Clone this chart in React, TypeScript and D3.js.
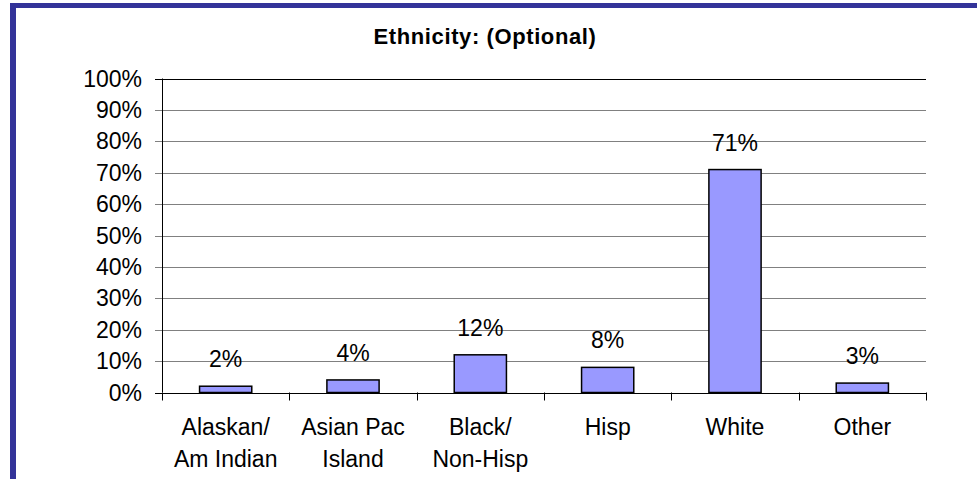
import React, { useEffect, useRef } from 'react';
import * as d3 from 'd3';

const categories: string[][] = [
  ['Alaskan/', 'Am Indian'],
  ['Asian Pac', 'Island'],
  ['Black/', 'Non-Hisp'],
  ['Hisp'],
  ['White'],
  ['Other'],
];
const values = [2, 4, 12, 8, 71, 3];
const yTicks = [0, 10, 20, 30, 40, 50, 60, 70, 80, 90, 100];

const W = 977;
const H = 479;

const App: React.FC = () => {
  const svgRef = useRef<SVGSVGElement | null>(null);

  useEffect(() => {
    if (!svgRef.current) return;
    const svg = d3.select(svgRef.current);
    svg.selectAll('*').remove();

    const font = 'Arial, "Liberation Sans", sans-serif';
    const left = 162;
    const right = 926;
    const top = 78.5;
    const bottom = 392.5;
    const fs = 23;

    svg.append('rect').attr('width', W).attr('height', H).attr('fill', '#fff');

    // Frame (left and top edges only visible)
    svg.append('rect')
      .attr('x', 10).attr('y', 3)
      .attr('width', 6).attr('height', H - 3)
      .attr('fill', '#333399');
    svg.append('rect')
      .attr('x', 10).attr('y', 3)
      .attr('width', W - 10).attr('height', 5)
      .attr('fill', '#333399');

    svg.append('text')
      .attr('x', 485).attr('y', 44)
      .attr('text-anchor', 'middle')
      .attr('font-family', font)
      .attr('font-weight', 'bold')
      .attr('font-size', 22)
      .attr('letter-spacing', 0.6)
      .text('Ethnicity: (Optional)');

    const x = d3.scaleBand<number>()
      .domain(values.map((_, i) => i))
      .range([left, right])
      .paddingInner(0)
      .paddingOuter(0);
    const y = d3.scaleLinear().domain([0, 100]).range([bottom, top]);

    // Gridlines + y ticks
    svg.selectAll('line.grid')
      .data(yTicks)
      .enter()
      .append('line')
      .attr('x1', left - 7)
      .attr('x2', right)
      .attr('y1', d => Math.round(y(d)) + 0.5)
      .attr('y2', d => Math.round(y(d)) + 0.5)
      .attr('stroke', d => (d === 0 || d === 100 ? '#000' : '#808080'))
      .attr('stroke-width', 1);

    svg.selectAll('text.ylab')
      .data(yTicks)
      .enter()
      .append('text')
      .attr('x', 142)
      .attr('y', d => y(d) + 8)
      .attr('text-anchor', 'end')
      .attr('font-family', font)
      .attr('font-size', fs)
      .attr('fill', '#000')
      .text(d => `${d}%`);

    // y axis
    svg.append('line')
      .attr('x1', left + 0.5).attr('x2', left + 0.5)
      .attr('y1', top).attr('y2', bottom)
      .attr('stroke', '#000');

    // category ticks
    const tickXs = values.map((_, i) => x(i) || 0).concat([right]);
    svg.selectAll('line.xtick')
      .data(tickXs)
      .enter()
      .append('line')
      .attr('x1', d => Math.round(d) + 0.5)
      .attr('x2', d => Math.round(d) + 0.5)
      .attr('y1', bottom)
      .attr('y2', bottom + 8)
      .attr('stroke', '#000');

    const barW = x.bandwidth() * 0.41;

    svg.selectAll('rect.bar')
      .data(values)
      .enter()
      .append('rect')
      .attr('x', (_, i) => (x(i) || 0) + x.bandwidth() / 2 - barW / 2)
      .attr('y', d => y(d))
      .attr('width', barW)
      .attr('height', d => bottom - y(d))
      .attr('fill', '#9999FF')
      .attr('stroke', '#000')
      .attr('stroke-width', 1.5);

    svg.selectAll('text.val')
      .data(values)
      .enter()
      .append('text')
      .attr('x', (_, i) => (x(i) || 0) + x.bandwidth() / 2)
      .attr('y', d => y(d) - 19)
      .attr('text-anchor', 'middle')
      .attr('font-family', font)
      .attr('font-size', fs)
      .attr('fill', '#000')
      .text(d => `${d}%`);

    const catG = svg.selectAll('g.cat')
      .data(categories)
      .enter()
      .append('g')
      .attr('transform', (_, i) => `translate(${(x(i) || 0) + x.bandwidth() / 2},0)`);
    catG.selectAll('text')
      .data(d => d)
      .enter()
      .append('text')
      .attr('x', 0)
      .attr('y', (_, j) => 435 + j * 32)
      .attr('text-anchor', 'middle')
      .attr('font-family', font)
      .attr('font-size', fs)
      .attr('fill', '#000')
      .text(d => d);
  }, []);

  return (
    <div style={{ position: 'fixed', left: 0, top: 0, width: W, height: H }}>
      <svg ref={svgRef} width={W} height={H} style={{ display: 'block' }} />
    </div>
  );
};

export default App;
